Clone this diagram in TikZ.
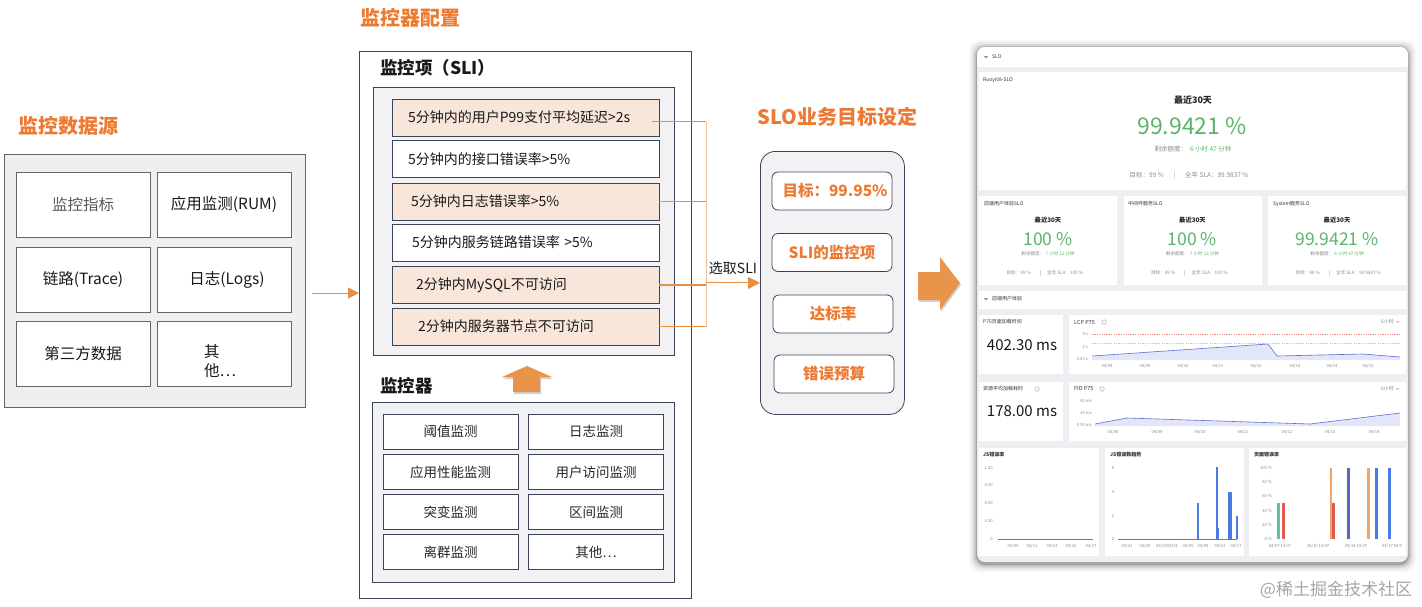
\documentclass[tikz,border=0pt]{standalone}
\usepackage{fontspec}
\setmainfont{Noto Sans CJK SC}
\usetikzlibrary{arrows.meta}
\definecolor{org}{HTML}{EC7A32}
\definecolor{orgline}{HTML}{E98E45}
\definecolor{orglight}{HTML}{F0C29C}
\definecolor{blockorg}{HTML}{E8944B}
\definecolor{peach}{HTML}{F9E6DA}
\definecolor{navy}{HTML}{3A4459}
\definecolor{srcgray}{HTML}{EFEFEF}
\definecolor{boxgray}{HTML}{F2F2F4}
\definecolor{dgreen}{HTML}{5AB46C}
\definecolor{dashbg}{HTML}{EDEFF2}
\definecolor{txtgray}{HTML}{8C8C8C}
\definecolor{lineblue}{HTML}{5E6ED6}
\definecolor{areablue}{HTML}{E3E6F8}
\definecolor{barblue}{HTML}{4A7BE0}
\definecolor{barpurple}{HTML}{5865C4}
\definecolor{bargreen}{HTML}{62C294}
\definecolor{barred}{HTML}{E05A4E}
\definecolor{barorange}{HTML}{F0A465}
\newcommand\fsz[1]{\fontsize{#1}{#1}\selectfont}
\tikzset{
  ttl/.style={inner sep=0, text=org, font=\fsz{20}\bfseries},
  hdr/.style={inner sep=0, anchor=west, font=\fsz{17.5}\bfseries, text=black!90},
  srcbox/.style={draw=black!60, line width=0.8pt, fill=white, minimum width=134, minimum height=65, inner sep=0, font=\fsz{15.5}, text=black!90},
  sliitem/.style={draw=navy, line width=0.8pt, minimum height=37, text width=235, inner xsep=16, inner ysep=0, align=left, font=\fsz{14}, text=black!90},
  monitem/.style={draw=navy, line width=0.8pt, fill=white, minimum width=135, minimum height=35, inner sep=0, font=\fsz{13.5}, text=black!85},
  sloitem/.style={draw=navy, line width=0.8pt, fill=white, rounded corners=6, minimum width=120, minimum height=38, inner sep=0, font=\fsz{15.5}\bfseries, text=org},
  conn/.style={draw=orgline, line width=1.1pt},
  connv/.style={draw=orglight, line width=1pt},
  tip/.style={-{Triangle[length=11pt,width=11pt]}},
  dtxt/.style={inner sep=0, font=\fsz{5}, text=black!80},
  dsm/.style={inner sep=0, font=\fsz{4.2}, text=txtgray},
}
\begin{document}
\begin{tikzpicture}[x=1pt,y=-1pt]
\useasboundingbox (0,0) rectangle (1422,606);
\fill[white] (0,0) rectangle (1422,606);

% ---------------- data sources ----------------
\node[ttl] (tsrc) at (68,126) {监控数据源};
\node[draw=black!60, line width=0.8pt, fill=srcgray, minimum width=301, minimum height=253, anchor=north west, inner sep=0] (src) at (4,154) {};
\node[srcbox, text=black!65] (s1) at (83,204.5) {监控指标};
\node[srcbox] (s2) at (224,204.5) {应用监测(RUM)};
\node[srcbox] (s3) at (83,279.5) {链路(Trace)};
\node[srcbox] (s4) at (224,279.5) {\hspace*{6pt}日志(Logs)};
\node[srcbox] (s5) at (83,353.5) {第三方数据};
\node[srcbox] (s6) at (224,353.5) {};
\node[inner sep=0, anchor=west, align=left, font=\fontsize{15.5}{19}\selectfont, text=black!90] (s6t) at (204,361) {其\\他…};

% ---------------- monitor config ----------------
\node[ttl] (tcfg) at (410.5,18) {监控器配置};
\node[draw=navy, line width=0.8pt, fill=white, minimum width=332, minimum height=547, anchor=north west, inner sep=0] (cfg) at (359,51) {};
\node[hdr] (hsli) at (380,68) {监控项（SLI）};
\node[draw=navy, line width=0.8pt, fill=boxgray, minimum width=301, minimum height=268, anchor=north west, inner sep=0] (sli) at (373,87) {};
\node[sliitem, fill=peach] (i1) at (525.5,117.5) {5分钟内的用户P99支付平均延迟>2s};
\node[sliitem, fill=white] (i2) at (525.5,159) {5分钟内的接口错误率>5\%};
\node[sliitem, fill=peach] (i3) at (525.5,201.5) {\hspace*{3pt}5分钟内日志错误率>5\%};
\node[sliitem, fill=white] (i4) at (525.5,242.5) {\hspace*{4pt}5分钟内服务链路错误率 >5\%};
\node[sliitem, fill=peach] (i5) at (525.5,285) {\hspace*{8pt}2分钟内MySQL不可访问};
\node[sliitem, fill=peach] (i6) at (525.5,326.5) {\hspace*{10pt}2分钟内服务器节点不可访问};

% up block arrow
\fill[black, opacity=0.18] (514,394) -- (514,379) -- (503,379) -- (528,368) -- (553,379) -- (541,379) -- (541,394) -- cycle;
\fill[blockorg] (513,392) -- (513,377) -- (502,377) -- (527,366) -- (552,377) -- (540,377) -- (540,392) -- cycle;

\node[hdr] (hmon) at (380,386) {监控器};
\node[draw=navy, line width=0.8pt, fill=boxgray, minimum width=302, minimum height=180, anchor=north west, inner sep=0] (mon) at (372,402) {};
\node[monitem] (m1) at (450.5,431.5) {阈值监测};
\node[monitem] (m2) at (596,431.5) {日志监测};
\node[monitem] (m3) at (450.5,472) {应用性能监测};
\node[monitem] (m4) at (596,472) {用户访问监测};
\node[monitem] (m5) at (450.5,512) {突变监测};
\node[monitem] (m6) at (596,512) {区间监测};
\node[monitem] (m7) at (450.5,552) {离群监测};
\node[monitem] (m8) at (596,552) {其他…};

% source -> config arrow
\coordinate (a1) at (312,293);
\draw[conn, line width=1pt, tip, fill=orgline] (a1) -- (a1 -| cfg.west);

% ---------------- SLO targets ----------------
\node[ttl] (tslo) at (837.5,117) {SLO业务目标设定};
\node[draw=navy, line width=0.8pt, fill=boxgray, rounded corners=15, minimum width=144, minimum height=263, anchor=north west, inner sep=0] (slo) at (760,151) {};
\node[sloitem] (o1) at (832,191) {\hspace*{6pt}目标：99.95\%};
\node[sloitem] (o2) at (832,252.5) {SLI的监控项};
\node[sloitem] (o3) at (833,314) {达标率};
\node[sloitem] (o4) at (834,374) {错误预算};

% SLI selection connectors
\coordinate (bus) at (706,0);
\coordinate (c1) at ([xshift=-7pt,yshift=-4pt]i1.east);
\draw[connv] (c1 -| bus) -- (i6.east -| bus);
\draw[conn] (c1) -- (c1 -| bus);
\draw[conn] (i3.east) -- (i3.east -| bus);
\draw[conn] (i5.east) -- (i5.east -| bus);
\draw[conn] (i6.east) -- (i6.east -| bus);
\draw[conn, -{Triangle[length=12pt,width=12pt]}, fill=orgline] (slo.west -| bus) -- (slo.west)
  node[pos=0.5, above=8pt, inner sep=0, font=\fsz{14}, text=black!90] (pick) {选取SLI};

% right block arrow
\fill[black, opacity=0.18] (919,274) -- (941,274) -- (941,259) -- (961,285) -- (941,312) -- (941,302) -- (919,302) -- cycle;
\fill[blockorg] (918,272) -- (940,272) -- (940,257) -- (960,283) -- (940,310) -- (940,300) -- (918,300) -- cycle;

% ---------------- dashboard screenshot ----------------
\foreach \i/\o in {8/0.03,6/0.05,4/0.07,2.5/0.10,1.2/0.16}
  \fill[black, opacity=\o, rounded corners=10] (977-\i,47-\i+1) rectangle (1408+\i,562+\i+2);
\fill[dashbg, rounded corners=8] (977,47) rectangle (1408,562);
\fill[white, rounded corners=8] (977,47) rectangle (1408,67);
\fill[white] (977,58) rectangle (1408,67);
\fill[txtgray] (984,56) -- (988,56) -- (986,58.5) -- cycle;
\node[dtxt, anchor=west] (dslo) at (992,57) {SLO};

% main card
\fill[white] (979,72) rectangle (1406,190);
\node[dtxt, anchor=west] (dname) at (983,80) {Ruoyi08-SLO};
\node[inner sep=0, font=\fsz{9}\bfseries, text=black!85] (d30) at (1193,100) {最近30天};
\node[inner sep=0, font=\fsz{23}, text=dgreen] (dval) at (1192,126) {99.9421 \%};
\node[inner sep=0, font=\fsz{6.5}] (drem) at (1193,149) {\textcolor{txtgray}{剩余额度：}\ \ \textcolor{dgreen}{6 小时 47 分钟}};
\node[inner sep=0, anchor=east, font=\fsz{6.5}, text=txtgray] (dtg) at (1164,175) {目标：99 \%};
\draw[black!15, line width=0.4] (1174,171) -- (1174,179);
\node[inner sep=0, anchor=west, font=\fsz{6.5}, text=txtgray] (dsla) at (1185,175) {全年 SLA：99.9837 \%};

% three sub cards
\foreach \n/\cx/\lx/\ttl/\val/\rem/\sla in {
  a/1048/984/前端用户体验SLO/100 \%/7 小时 12 分钟/100 \%,
  b/1192.5/1128/中间件服务SLO/100 \%/7 小时 12 分钟/100 \%,
  c/1337/1273/System服务SLO/99.9421 \%/6 小时 47 分钟/99.9837 \%}{
  \fill[white] (\cx-69,196) rectangle (\cx+69,285);
  \node[dtxt, anchor=west] (ct\n) at (\lx,204) {\ttl};
  \node[inner sep=0, font=\fsz{6.3}\bfseries, text=black!85] (c30\n) at (\cx,220) {最近30天};
  \node[inner sep=0, font=\fsz{17.5}, text=dgreen] (cv\n) at (\cx,239) {\val};
  \node[inner sep=0, font=\fsz{4.6}] (cr\n) at (\cx,254) {\textcolor{txtgray}{剩余额度：}\ \textcolor{dgreen}{\rem}};
  \node[inner sep=0, anchor=east, font=\fsz{4.6}, text=txtgray] (cg\n) at (\cx-17,273) {目标：99 \%};
  \draw[black!15, line width=0.3] (\cx-8,270) -- (\cx-8,276);
  \node[inner sep=0, anchor=west, font=\fsz{4.6}, text=txtgray] (cs\n) at (\cx-1,273) {全年 SLA：\sla};
}

% section strip
\fill[white] (979,291) rectangle (1406,309);
\fill[txtgray] (984,298) -- (988,298) -- (986,300.5) -- cycle;
\node[dtxt, anchor=west] (dsec) at (992,299) {前端用户体验};

% row 1
\fill[white] (979,315) rectangle (1063,374);
\node[dtxt, anchor=west] (p75t) at (983,322) {P75页面加载时间};
\node[inner sep=0, font=\fsz{15}, text=black!90] (p75v) at (1022,345) {402.30 ms};
\fill[white] (1069,315) rectangle (1406,374);
\node[dtxt, anchor=west, font=\fsz{5.5}] (lcpt) at (1074,322) {LCP P75};
\draw[txtgray, line width=0.3] (1104,322) circle (2.3);
\node[inner sep=0, font=\fsz{3}, text=txtgray] (lcpi) at (1104,322) {i};
\node[dtxt, anchor=east, text=txtgray] (lcph) at (1394,322) {6小时};
\draw[txtgray, line width=0.35] (1396,321) -- (1397.5,322.5) -- (1399,321);
\draw[barred!70, line width=0.4, dash pattern=on 1.2pt off 1.2pt] (1092,334) -- (1400,334);
\draw[barorange!80, line width=0.4, dash pattern=on 1.2pt off 1.2pt] (1092,343) -- (1400,343);
\fill[areablue] (1092,360) -- (1092,356) -- (1268,344) -- (1277,356) -- (1363,354) -- (1400,357) -- (1400,360) -- cycle;
\draw[lineblue, line width=0.6] (1092,356) -- (1268,344) -- (1277,356) -- (1363,354) -- (1400,357);
\node[dsm, anchor=east] (ly1) at (1088,334) {4 s};
\node[dsm, anchor=east] (ly2) at (1088,347) {2 s};
\node[dsm, anchor=east] (ly3) at (1088,359) {0.00 s};
\foreach \x/\d [count=\k] in {1107/08,1145/09,1183/10,1218/11,1256/12,1295/13,1332/14,1368/15}
  \node[dsm] (lx\k) at (\x,366) {04/\d};

% row 2
\fill[white] (979,382) rectangle (1063,441);
\node[dtxt, anchor=west] (rest) at (983,389) {资源平均加载耗时};
\draw[txtgray, line width=0.3] (1037,389) circle (2.3);
\node[inner sep=0, font=\fsz{3}, text=txtgray] (resi) at (1037,389) {i};
\node[inner sep=0, font=\fsz{15}, text=black!90] (resv) at (1022,411) {178.00 ms};
\fill[white] (1069,382) rectangle (1406,441);
\node[dtxt, anchor=west, font=\fsz{5.5}] (fidt) at (1074,389) {FID P75};
\draw[txtgray, line width=0.3] (1102,389) circle (2.3);
\node[inner sep=0, font=\fsz{3}, text=txtgray] (fidi) at (1102,389) {i};
\node[dtxt, anchor=east, text=txtgray] (fidh) at (1394,389) {6小时};
\draw[txtgray, line width=0.35] (1396,388) -- (1397.5,389.5) -- (1399,388);
\fill[areablue] (1095,426) -- (1095,424) -- (1127,418) -- (1310,424) -- (1400,413) -- (1400,426) -- cycle;
\draw[lineblue, line width=0.6] (1095,424) -- (1127,418) -- (1310,424) -- (1400,413);
\node[dsm, anchor=east] (fy1) at (1092,401) {40 ms};
\node[dsm, anchor=east] (fy2) at (1092,413) {20 ms};
\node[dsm, anchor=east] (fy3) at (1092,425) {0.00 ms};
\foreach \x/\d [count=\k] in {1113/08,1157/09,1200/10,1243/11,1287/12,1330/13,1374/14}
  \node[dsm] (fx\k) at (\x,432) {04/\d};

% bottom cards
\fill[white] (979,448) rectangle (1099,556);
\node[dtxt, anchor=west, font=\fsz{5}\bfseries] (jst) at (983,455) {JS错误率};
\foreach \y/\t [count=\k] in {468/1.20,485/0.90,503/0.60,521/0.30,539/0}
  \node[dsm, anchor=east] (jy\k) at (993,\y) {\t};
\draw[barblue, line width=0.6] (998,539) -- (1093,539);
\foreach \x/\d [count=\k] in {1013/09,1032/11,1052/13,1071/15,1091/17}
  \node[dsm] (jx\k) at (\x,546) {04/\d};

\fill[white] (1105,448) rectangle (1244,556);
\node[dtxt, anchor=west, font=\fsz{5}\bfseries] (jct) at (1110,455) {JS错误数趋势};
\foreach \y/\t [count=\k] in {468/6,492/4,516/2,539/0}
  \node[dsm] (ky\k) at (1113,\y) {\t};
\draw[barblue, line width=0.6] (1118,539) -- (1237,539);
\fill[barblue] (1197.3,539) rectangle (1198.8,503);
\fill[barblue] (1216.3,539) rectangle (1217.8,467);
\fill[barblue] (1218,539) rectangle (1219.2,528);
\fill[barblue] (1228.3,539) rectangle (1229.8,492);
\fill[barblue] (1230.3,539) rectangle (1231.8,492);
\fill[barblue] (1236.3,539) rectangle (1237.8,516);
\node[dsm] (kx1) at (1127,546) {03/21};
\node[dsm] (kx2) at (1145,546) {03/25};
\node[dsm] (kx3) at (1167,546) {03/2904/01};
\node[dsm] (kx4) at (1188,546) {04/05};
\node[dsm] (kx5) at (1203,546) {04/09};
\node[dsm] (kx6) at (1220,546) {04/13};
\node[dsm] (kx7) at (1236,546) {04/17};

\fill[white] (1249,448) rectangle (1406,556);
\node[dtxt, anchor=west, font=\fsz{5}\bfseries] (pgt) at (1254,455) {页面错误率};
\foreach \y/\t [count=\k] in {468/100,482/80,496/60,511/40,525/20,539/0}
  \node[dsm, anchor=east] (py\k) at (1272,\y) {\t\ \%};
\fill[bargreen] (1277,539) rectangle (1280,503);
\fill[barred] (1282,539) rectangle (1284.5,503);
\fill[barorange] (1329.5,539) rectangle (1332,468);
\fill[barred] (1332,539) rectangle (1334.5,503);
\fill[barpurple] (1347,539) rectangle (1349.5,468);
\fill[barorange] (1367,539) rectangle (1369.5,468);
\fill[barblue] (1375,539) rectangle (1377.5,468);
\fill[barblue] (1388,539) rectangle (1390.5,468);
\node[dsm] (px1) at (1280,546) {04/07 14:07};
\node[dsm] (px2) at (1318,546) {04/10 14:07};
\node[dsm] (px3) at (1356,546) {04/14 15:07};
\node[dsm] (px4) at (1392,546) {04/17 04:0};

% watermark
\node[inner sep=0, font=\fsz{17}, text=black!35] (wm) at (1336,590) {@稀土掘金技术社区};
\end{tikzpicture}
\end{document}
